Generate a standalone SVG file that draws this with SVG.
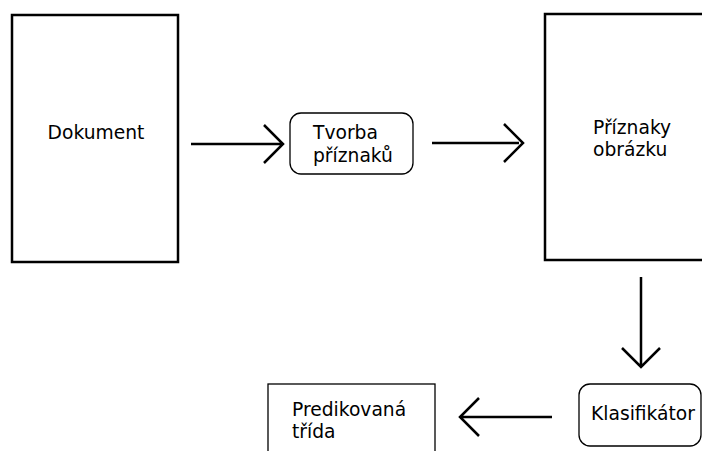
<svg xmlns="http://www.w3.org/2000/svg" width="702" height="451" viewBox="0 0 702 451">
<style>
text{font-family:"DejaVu Sans",sans-serif;font-size:18.7px;fill:#000}
.thick{fill:#fff;stroke:#000;stroke-width:2.5}
.thin{fill:#fff;stroke:#000;stroke-width:1.3}
.conn{fill:none;stroke:#000;stroke-width:2.5}
</style>
<rect width="702" height="451" fill="#fff"/>
<g id="dokument">
<rect class="thick" x="12" y="15" width="166" height="247"/>
<text x="96" y="139" text-anchor="middle">Dokument</text>
</g>
<g id="tvorba">
<rect class="thin" x="290" y="113" width="123" height="61" rx="11"/>
<text x="313" y="139">Tvorba</text>
<text x="313" y="162">příznaků</text>
</g>
<g id="priznaky">
<rect class="thick" x="545" y="14" width="170" height="246"/>
<text x="593" y="134">Příznaky</text>
<text x="593" y="156">obrázku</text>
</g>
<g id="klasifikator">
<rect class="thin" x="579" y="384" width="122" height="62" rx="11"/>
<text x="591" y="420">Klasifikátor</text>
</g>
<g id="predikovana">
<rect class="thin" x="268" y="384" width="167" height="80"/>
<text x="292" y="416">Predikovaná</text>
<text x="292" y="438">třída</text>
</g>
<g id="connectors">
<path class="conn" d="M191 144H282M264 125L283 144L264 163"/>
<path class="conn" d="M432 143H519M504 124L523 143L504 162"/>
<path class="conn" d="M641 277V366M622 348L641 367L660 348"/>
<path class="conn" d="M552 417H461M479 398L460 417L479 436"/>
</g>
</svg>
